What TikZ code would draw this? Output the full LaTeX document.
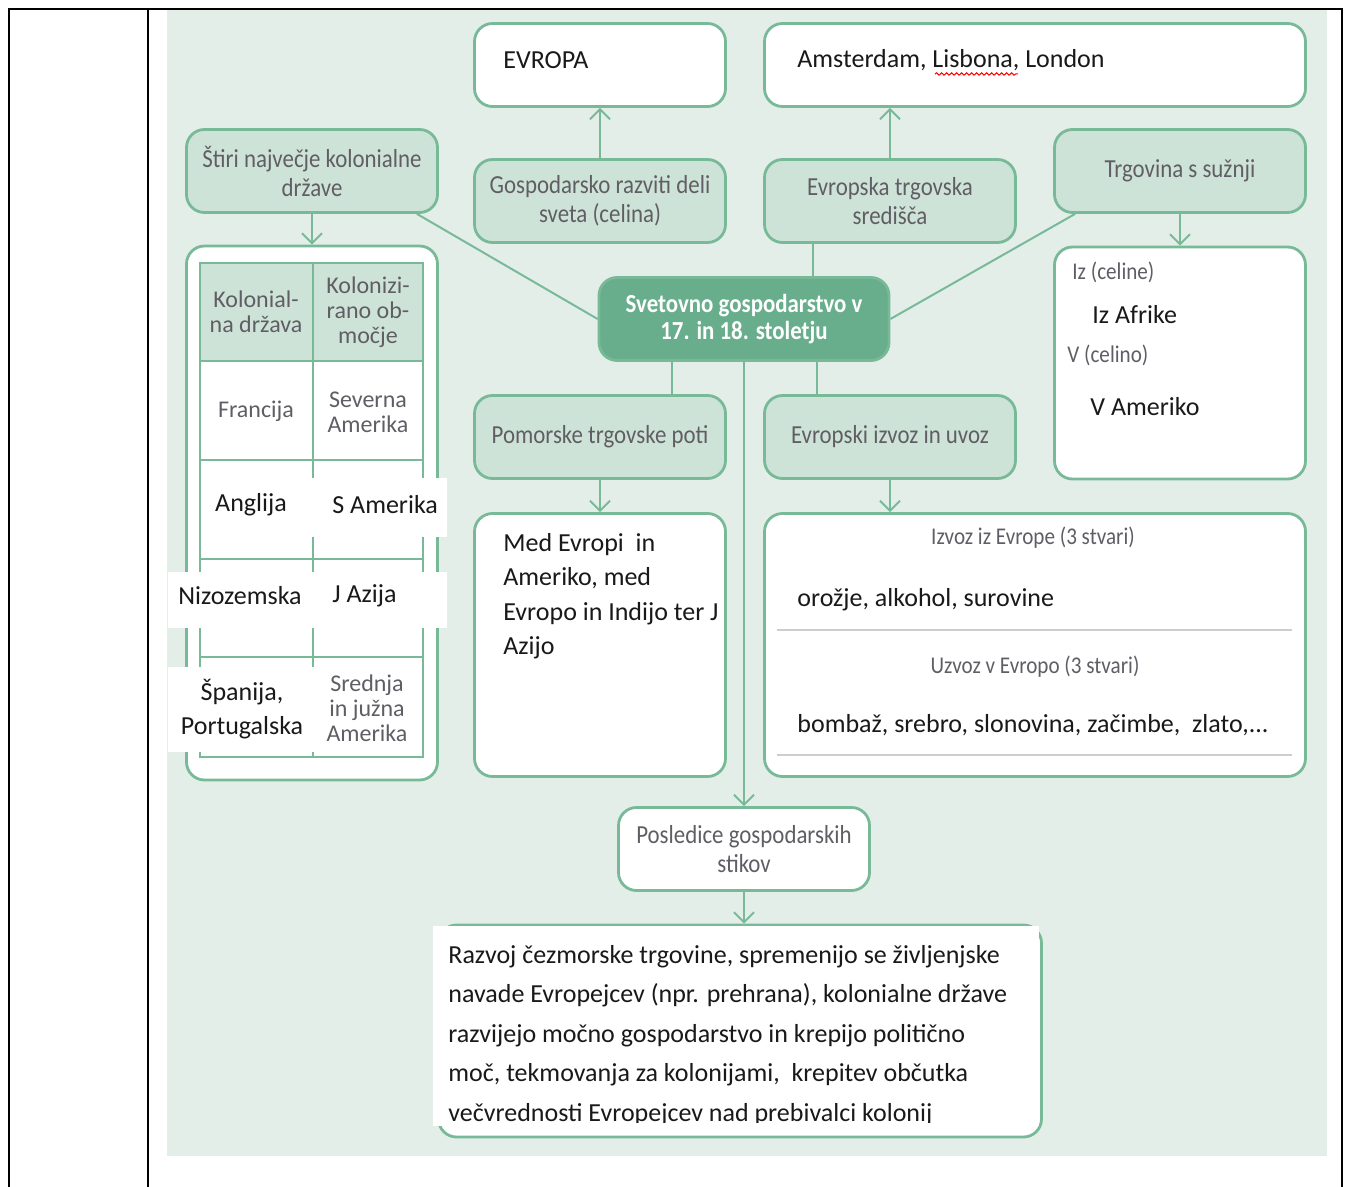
\documentclass[tikz,border=0pt]{standalone}
\usepackage{fontspec}
\setmainfont{Carlito}
\newfontfamily\ozka[FakeStretch=0.88]{Carlito}
\usetikzlibrary{arrows.meta,decorations.pathmorphing}
\definecolor{ozadje}{RGB}{228,238,233}
\definecolor{robna}{RGB}{120,186,152}
\definecolor{svetla}{RGB}{206,227,215}
\definecolor{temna}{RGB}{104,174,141}
\definecolor{sivtekst}{RGB}{96,94,100}
\definecolor{crta}{RGB}{205,205,205}
\newcommand{\crni}{\fontsize{13}{17.25}\selectfont}
\newcommand{\sivi}{\ozka\fontsize{13}{14.5}\selectfont}
\newcommand{\mali}{\ozka\fontsize{12}{13}\selectfont}
\newcommand{\tabf}{\fontsize{12}{12.5}\selectfont}

\begin{document}
\begin{tikzpicture}[x=0.5pt,y=-0.5pt,
  okvir/.style={draw=robna,line width=1.4pt,rounded corners=9pt,inner sep=0pt,
    minimum width=125.5pt,minimum height=41.5pt},
  zelen/.style={okvir,fill=svetla,text=sivtekst,font=\sivi,align=center},
  bel/.style={okvir,fill=white},
  pov/.style={draw=robna,line width=1pt},
  pus/.style={pov,-{Straight Barb[length=5pt,width=10pt]}},
  crna/.style={inner sep=0pt,anchor=west,font=\crni,text=black!90},
  siva/.style={inner sep=0pt,text=sivtekst,font=\tabf,align=center}]
\useasboundingbox (0,0) rectangle (1349,1187);
\fill[ozadje] (167,10) rectangle (1327,1156);
\draw[line width=1.1pt] (9,1187) -- (9,9) -- (1342,9) -- (1342,1187);
\draw[line width=1.1pt] (148,9) -- (148,1187);

\node[bel] (evropa) at (600,65) {};
\node[crna] (evropat) at (503,60) {EVROPA};
\node[bel,minimum width=270.5pt] (mesta) at (1035,65) {};
\node[crna] (mestat) at (797,60) {Amsterdam, Lisbona, London};
\node[zelen] (kolonije) at (312,171) {Štiri največje kolonialne\\države};
\node[zelen] (razviti) at (600,201) {Gospodarsko razviti deli\\sveta (celina)};
\node[zelen] (sredisca) at (890,201) {Evropska trgovska\\središča};
\node[zelen] (suznji) at (1180,171) {Trgovina s sužnji};
\node[okvir,fill=temna,minimum width=145pt,text=white,align=center,
  font=\ozka\bfseries\fontsize{13}{13.5}\selectfont] (glavno) at (744,319)
  {Svetovno gospodarstvo v\\17. in 18. stoletju};
\node[bel,minimum height=267pt] (tabela) at (312,513) {};
\node[bel,minimum height=116pt] (suzvs) at (1180,363) {};
\node[zelen] (poti) at (600,437) {Pomorske trgovske poti};
\node[zelen] (izvoz) at (890,437) {Evropski izvoz in uvoz};
\node[bel,minimum height=131.5pt] (potivs) at (600,645) {};
\node[bel,minimum width=270.5pt,minimum height=131.5pt] (izvozvs) at (1035,645) {};
\node[bel,text=sivtekst,font=\sivi,align=center] (posledice) at (744,849)
  {Posledice gospodarskih\\stikov};
\node[bel,minimum width=301.5pt,minimum height=106pt] (razvoj) at (740,1031) {};

\fill[svetla] (200,263) rectangle (423,361);
\draw[robna,line width=1pt] (200,263) rectangle (423,757);
\foreach \y in {361,460,559,657}
  \draw[robna,line width=1pt] (200,\y) -- (423,\y);
\draw[robna,line width=1pt] (313,263) -- (313,757);
\fill[white] (201,478) rectangle (447,537);
\fill[white] (168,572) rectangle (447,628);
\fill[white] (168,667) rectangle (316,752);
\node[siva] (glava1) at (256,312) {Kolonial-\\na država};
\node[siva] (glava2) at (368,312) {Kolonizi-\\rano ob-\\močje};
\node[siva] (francija) at (256,411) {Francija};
\node[siva] (severna) at (368,412) {Severna\\Amerika};
\node[crna,anchor=center] (anglija) at (251,505) {Anglija};
\node[crna] (samerika) at (332,505) {S Amerika};
\node[crna,anchor=center] (nizozemska) at (240,596) {Nizozemska};
\node[crna] (jazija) at (332,596) {J Azija};
\node[crna,anchor=center,align=center] (spanija) at (242,709) {Španija,\\Portugalska};
\node[siva] (srednja) at (367,708) {Srednja\\in južna\\Amerika};

\node[siva,anchor=west,font=\mali] (izceline) at (1072,272) {Iz (celine)};
\node[crna] (afrika) at (1092,315) {Iz Afrike};
\node[siva,anchor=west,font=\mali] (vcelino) at (1067,355) {V (celino)};
\node[crna] (amerika) at (1090,407) {V Ameriko};

\node[crna,anchor=base west,align=left] (potit) at (503,654.5)
  {Med Evropi~ in\\Ameriko, med\\Evropo in Indijo ter J\\Azijo};

\node[siva,font=\mali] (izvozt) at (1033,538) {Izvoz iz Evrope (3 stvari)};
\node[crna] (izvozi) at (797,600) {orožje, alkohol, surovine};
\draw[crta,line width=1pt] (777,630) -- (1292,630);
\node[siva,font=\mali] (uvozt) at (1035,667) {Uzvoz v Evropo (3 stvari)};
\node[crna] (uvozi) at (797,725) {bombaž, srebro, slonovina, začimbe,~ zlato,...};
\draw[crta,line width=1pt] (777,755) -- (1292,755);

\fill[white] (433,926) rectangle (1039,1126);
\begin{scope}
\clip (433,926) rectangle (1039,1122);
\node[crna,anchor=base west,align=left,font=\fontsize{13}{19.75}\selectfont] (razvojt) at (448,1121)
  {Razvoj čezmorske trgovine, spremenijo se življenjske\\
   navade Evropejcev (npr. prehrana), kolonialne države\\
   razvijejo močno gospodarstvo in krepijo politično\\
   moč, tekmovanja za kolonijami,~ krepitev občutka\\
   večvrednosti Evropejcev nad prebivalci kolonij};
\end{scope}

\draw[red,line width=0.5pt,decorate,decoration={snake,amplitude=0.6pt,segment length=2.5pt}]
  (935,74) -- (1018,74);

\draw[pus] (kolonije.south) -- (tabela.north);
\draw[pus] (razviti.north) -- (evropa.south);
\draw[pus] (sredisca.north) -- (sredisca.north |- mesta.south);
\draw[pus] (suznji.south) -- (suzvs.north);
\draw[pov] ([xshift=-11pt]kolonije.south east) -- (glavno.west);
\draw[pov] ([xshift=11pt]suznji.south west) -- (glavno.east);
\draw[pov] ([xshift=-38.5pt]sredisca.south) -- ([xshift=-38.5pt]sredisca.south |- glavno.north);
\draw[pov] ([xshift=36pt]poti.north) -- ([xshift=36pt]poti.north |- glavno.south);
\draw[pov] ([xshift=-36.5pt]izvoz.north) -- ([xshift=-36.5pt]izvoz.north |- glavno.south);
\draw[pus] (glavno.south) -- (posledice.north);
\draw[pus] (poti.south) -- (potivs.north);
\draw[pus] (izvoz.south) -- (izvoz.south |- izvozvs.north);
\draw[pus] (posledice.south) -- (posledice.south |- razvoj.north);
\end{tikzpicture}
\end{document}
